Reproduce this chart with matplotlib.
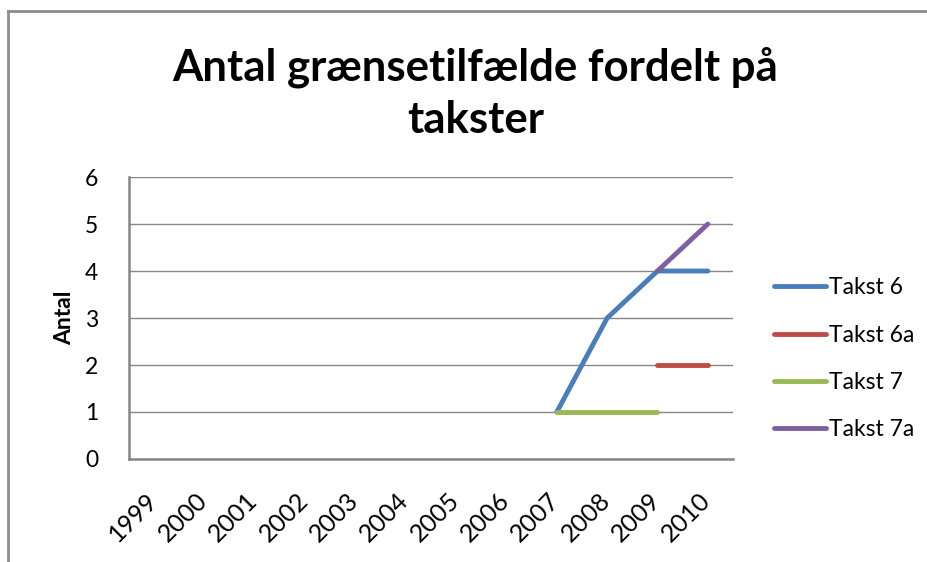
import matplotlib
matplotlib.use('Agg')
import matplotlib.pyplot as plt
from matplotlib.transforms import ScaledTranslation
import numpy as np

years = ["1999", "2000", "2001", "2002", "2003", "2004",
         "2005", "2006", "2007", "2008", "2009", "2010"]
nan = np.nan
takst_6 = [nan, nan, nan, nan, nan, nan, nan, nan, 1, 3, 4, 4]
takst_6a = [nan, nan, nan, nan, nan, nan, nan, nan, nan, nan, 2, 2]
takst_7 = [nan, nan, nan, nan, nan, nan, nan, nan, 1, 1, 1, nan]
takst_7a = [nan, nan, nan, nan, nan, nan, nan, nan, nan, nan, 4, 5]

series = [("Takst 6", takst_6, "#4A7EBB"),
          ("Takst 6a", takst_6a, "#BE4B48"),
          ("Takst 7", takst_7, "#98B954"),
          ("Takst 7a", takst_7a, "#7D60A0")]

plt.rcParams['font.family'] = ['Lato', 'DejaVu Sans']

fig = plt.figure(figsize=(9.27, 5.62), dpi=100)
ax = fig.add_axes([0.1392, 0.1833, 0.6515, 0.5017])

x = np.arange(len(years))
for name, vals, col in series:
    ax.plot(x, vals, color=col, lw=3.5, solid_capstyle='round',
            solid_joinstyle='round', label=name)

ax.set_xlim(-0.5, len(years) - 0.5)
ax.set_ylim(0, 6)
ax.set_yticks(range(0, 7))
ax.yaxis.grid(True, color='#868686', lw=1)
ax.set_axisbelow(True)
for s in ['top', 'right']:
    ax.spines[s].set_visible(False)
for s in ['left', 'bottom']:
    ax.spines[s].set_color('#868686')
    ax.spines[s].set_linewidth(1.8)

ax.set_xticks(x)
ax.set_xticklabels(years, rotation=45, ha='right', va='top',
                   rotation_mode='anchor', fontsize=18)
ax.tick_params(axis='x', length=0, pad=21)
ax.tick_params(axis='y', length=0, pad=22, labelsize=16.5)
# nudge rotated labels left so their ends sit near the category
shift = ScaledTranslation(-0.09, 0, fig.dpi_scale_trans)
for lab in ax.get_xticklabels():
    lab.set_transform(lab.get_transform() + shift)

ax.set_ylabel("Antal", fontsize=16.5, fontweight='bold', labelpad=7)

fig.text(0.513, 0.834, "Antal grænsetilfælde fordelt på\ntakster",
         ha='center', va='center', fontsize=31.5, fontweight='bold',
         linespacing=1.38)

leg = ax.legend(loc='center left', bbox_to_anchor=(1.033, 0.355),
                frameon=False, fontsize=16.5, handlelength=2.3,
                handletextpad=0.12, labelspacing=1.15)

# chart border
fig.add_artist(plt.Line2D([8 / 927, 8 / 927], [0, 1 - 11 / 562],
                          color='#8c8c8c', lw=2))
fig.add_artist(plt.Line2D([8 / 927, 1], [1 - 11 / 562, 1 - 11 / 562],
                          color='#8c8c8c', lw=2))

fig.savefig("out.png", dpi=100)
